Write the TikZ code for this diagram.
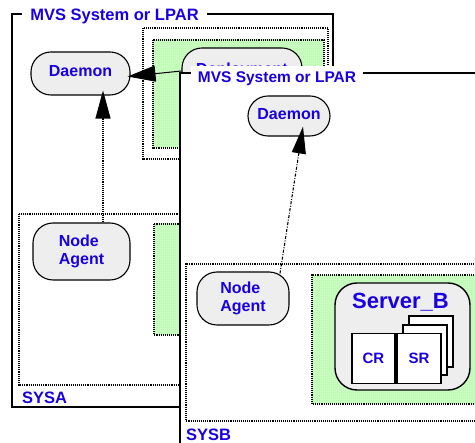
\documentclass[tikz,border=0pt]{standalone}
\usepackage{fontspec}
\setmainfont{Liberation Sans}
\usetikzlibrary{arrows.meta,patterns,calc}
\definecolor{lblue}{RGB}{25,0,225}
\definecolor{nodegray}{RGB}{238,238,238}
\definecolor{dotgreen}{RGB}{90,245,70}
\definecolor{greenbg}{RGB}{236,255,232}
\pgfdeclarepatternformonly{gdots}{\pgfpointorigin}{\pgfpoint{2.4pt}{2.4pt}}{\pgfpoint{2.4pt}{2.4pt}}{\pgfpathcircle{\pgfpoint{1.2pt}{1.2pt}}{0.85pt}\pgfusepath{fill}}
\begin{document}
\begin{tikzpicture}[x=1pt,y=-1pt,
  lbl/.style={text=lblue,font=\bfseries\fontsize{16}{18}\selectfont},
  rbox/.style={draw=black,line width=1.1pt,fill=nodegray,rounded corners=20pt,inner sep=0pt,lbl},
  framel/.style={draw=black,line width=1.4pt},
  dotbox/.style={draw=black,line width=1.1pt,densely dotted},
  gfill/.style={pattern=gdots,pattern color=dotgreen},
  sq/.style={draw=black,line width=1.4pt,fill=white,minimum width=44pt,minimum height=50pt,inner sep=0pt},
  bigtip/.style={-{Triangle[length=28pt,width=15pt]}}]
\useasboundingbox (0,0) rectangle (475,443);
\fill[white] (0,0) rectangle (475,443);
% ---------------- SYSA ----------------
\draw[framel,fill=white] (12,14) rectangle (333,407);
\node[lbl,font=\bfseries\fontsize{16.5}{18}\selectfont,fill=white,inner xsep=8pt,inner ysep=1pt,anchor=base] (tA) at (114.5,20.5) {MVS System or LPAR};
% deployment manager area
\draw[dotbox,fill=white] (143,28) rectangle (328,159);
\fill[greenbg] (153,40) rectangle (324,148);
\path[gfill] (153,40) rectangle (324,148);
\draw[dotbox] (153,40) rectangle (324,148);
\node[rbox,minimum width=120pt,minimum height=46pt] (dm) at (242,71) {\raisebox{5pt}{Deployment}};
\node[rbox,minimum width=99pt,minimum height=43pt] (dA) at (80.5,73.5) {\raisebox{5.25pt}{Daemon}};
% node area
\draw[dotbox] (19,214) rectangle (300,385);
\fill[greenbg] (154,224) rectangle (260,335);
\path[gfill] (154,224) rectangle (260,335);
\draw[dotbox] (154,224) rectangle (260,335);
\node[rbox,align=left,minimum width=97pt,minimum height=57pt] (naA) at (81.5,251.5) {Node\\Agent};
\node[lbl,font=\bfseries\fontsize{16.5}{18}\selectfont,anchor=base west,inner sep=0pt] (sA) at (22,404) {SYSA};
% connectors SYSA
\draw[densely dotted,line width=1.1pt,bigtip] ($(naA.north)+(21.5,0)$) -- ($(dA.south)+(22.5,-5)$);
\draw[line width=1pt,-{Triangle[length=28pt,width=16pt]}] (dm.west) -- ($(dA.east)+(-3,3)$);
% ---------------- SYSB ----------------
\fill[white] (180,73) rectangle (475,443);
\draw[framel] (180,443) -- (180,73) -- (475,73);
\node[lbl,font=\bfseries\fontsize{15.5}{18}\selectfont,fill=white,inner xsep=6.5pt,inner ysep=6pt,anchor=base] (tB) at (277,83) {MVS System or LPAR};
\node[rbox,minimum width=82pt,minimum height=40pt] (dB) at (289,116) {\raisebox{3.75pt}{Daemon}};
\draw[dotbox] (476,264) -- (186,264) -- (186,421) -- (476,421);
\fill[greenbg] (312,275) rectangle (476,404);
\path[gfill] (312,275) rectangle (476,404);
\draw[dotbox] (476,275) -- (312,275) -- (312,404) -- (476,404);
\node[draw=black,line width=1.4pt,fill=nodegray,rounded corners=22pt,minimum width=135pt,minimum height=107pt,inner sep=0pt] (srvB) at (402.5,336.5) {};
\node[lbl,font=\bfseries\fontsize{22}{24}\selectfont,anchor=base,inner sep=0pt] (srvBt) at (400.5,309) {Server\_B};
\node[sq,minimum height=51pt] (sr3) at (431,341.5) {};
\node[sq] (sr2) at (425,350) {};
\node[sq,lbl,font=\bfseries\fontsize{15}{18}\selectfont] (sr1) at (419,358.5) {SR};
\node[sq,minimum width=43pt,lbl,font=\bfseries\fontsize{15}{18}\selectfont] (cr) at (373.5,358.5) {CR};
\node[rbox,align=left,minimum width=92pt,minimum height=53pt] (naB) at (243,298.5) {Node\\Agent};
\node[lbl,font=\bfseries\fontsize{16.5}{18}\selectfont,anchor=base west,inner sep=0pt] (sB) at (186,440.5) {SYSB};
\draw[line width=1.1pt,dash pattern=on 3pt off 1.5pt on 1pt off 1.5pt,-{Triangle[length=27pt,width=14pt]}] ($(naB.north)+(37,2)$) -- ($(dB.south)+(14,-10)$);
\end{tikzpicture}
\end{document}
